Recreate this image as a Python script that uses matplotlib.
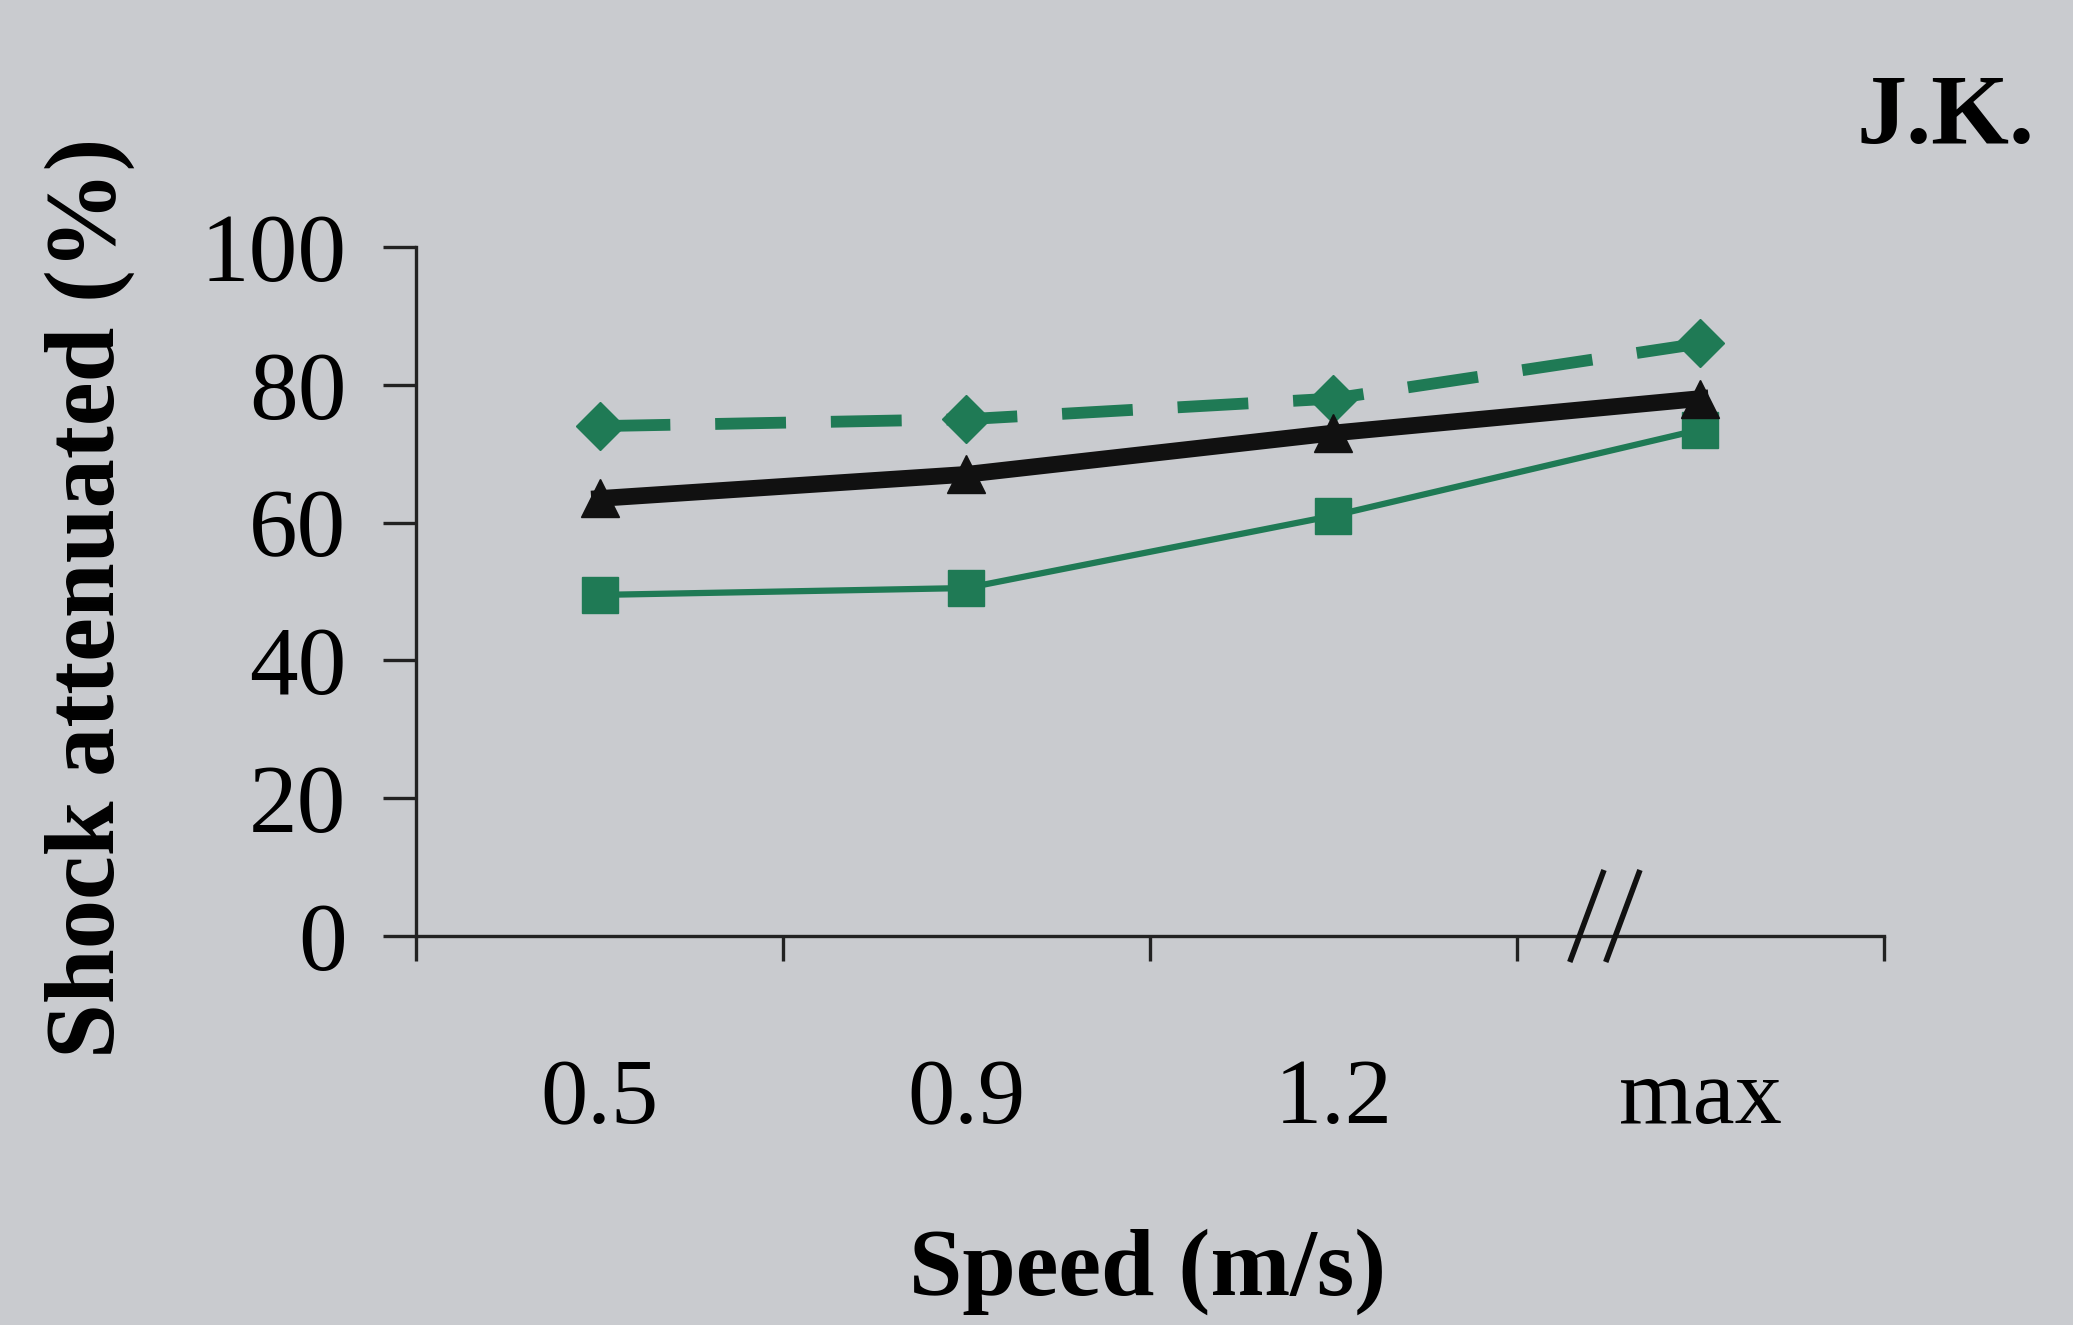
import matplotlib

matplotlib.use("Agg")
import matplotlib.pyplot as plt
import numpy as np

# data
speeds = ["0.5", "0.9", "1.2", "max"]
diamond_vals = [74, 75, 78, 86]
triangle_vals = [63.5, 67, 73, 78]
square_vals = [49.5, 50.5, 61, 73.5]
yticks = [0, 20, 40, 60, 80, 100]
break_pos = 2.74  # position of the "//" axis break

bg = "#c9cbcf"
green = "#1f7a55"
serif = ["Liberation Serif", "DejaVu Serif"]

plt.rcParams["font.family"] = serif

fig = plt.figure(figsize=(20.73, 13.25), dpi=100, facecolor=bg)
ax = fig.add_axes([0.2007, 0.2936, 0.708, 0.52])
ax.set_facecolor(bg)

x = np.arange(len(speeds))
ax.plot(x, diamond_vals, color=green, lw=8.5, dashes=(6, 3.8), marker="D",
        ms=24, mfc=green, mec=green, zorder=3)
ax.plot(x, square_vals, color=green, lw=4.5, marker="s", ms=26,
        mfc=green, mec=green, zorder=3)
ax.plot(x, triangle_vals, color="#111111", lw=12, marker="^", ms=27,
        mfc="#111111", mec="#111111", zorder=4)

ax.set_xlim(-0.5, len(speeds) - 0.5)
ax.set_ylim(0, 100)

for s in ["top", "right"]:
    ax.spines[s].set_visible(False)
for s in ["left", "bottom"]:
    ax.spines[s].set_linewidth(2.4)
    ax.spines[s].set_color("#222222")

# y ticks
ax.set_yticks(yticks)
ax.set_yticklabels([str(v) for v in yticks])
ax.tick_params(axis="y", direction="out", length=24, width=2.4,
               color="#222222", pad=26, labelsize=70)

# x ticks between categories, labels at the centres
ax.set_xticks(np.arange(len(speeds) + 1) - 0.5)
ax.set_xticklabels([])
ax.tick_params(axis="x", which="major", direction="out", length=18,
               width=2.4, color="#222222")
ax.set_xticks(x, minor=True)
ax.set_xticklabels(speeds, minor=True)
ax.tick_params(axis="x", which="minor", length=0, pad=88, labelsize=68)

# axis break marks
for dx in (-0.049, 0.049):
    xb = break_pos + dx
    ax.plot([xb - 0.044, xb + 0.044], [-3.4, 9.2], color="#111111", lw=4,
            clip_on=False, zorder=5)

fig.text(0.5538, 0.040, "Speed (m/s)", ha="center", va="center",
         fontsize=69, fontweight="bold")
fig.text(0.0434, 0.549, "Shock attenuated (%)", ha="center", va="center",
         rotation=90, fontsize=71, fontweight="bold")
fig.text(0.9387, 0.910, "J.K.", ha="center", va="center",
         fontsize=72, fontweight="bold")

fig.savefig("out.png", dpi=100, facecolor=bg)
